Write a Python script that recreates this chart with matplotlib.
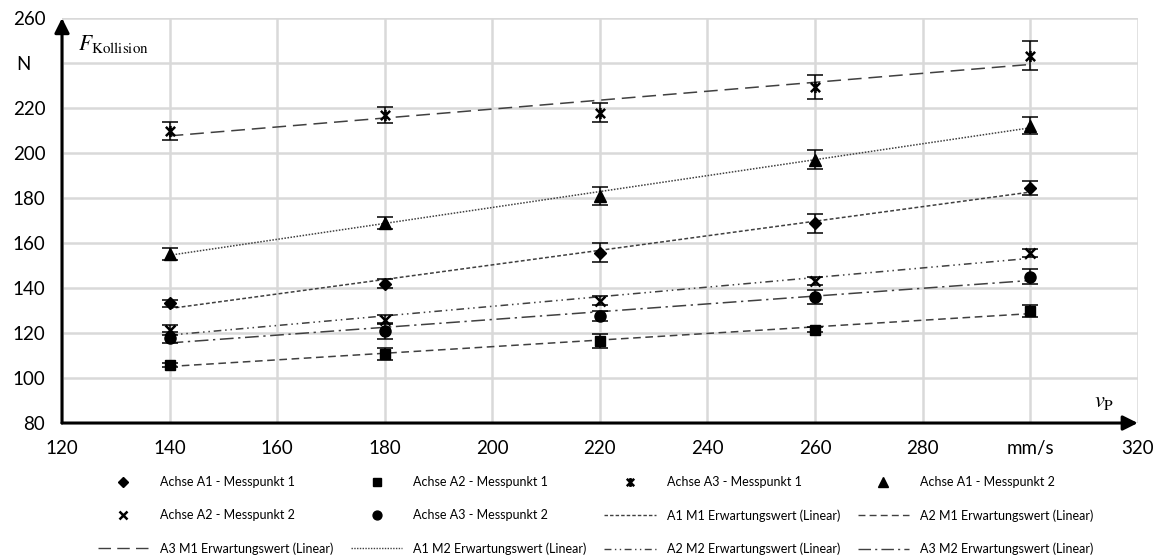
import numpy as np
import matplotlib
matplotlib.use("Agg")
import matplotlib.pyplot as plt
from matplotlib.lines import Line2D
from matplotlib.path import Path

plt.rcParams['font.family'] = ['Lato', 'DejaVu Sans']
plt.rcParams['mathtext.fontset'] = 'stix'

# measured speeds (mm/s)
v = [140, 180, 220, 260, 300]

# collision forces (N) and their spreads
a1m1 = [133.2, 141.8, 155.6, 168.8, 184.4]
a1m1_err = [1.7, 2.0, 4.2, 4.2, 3.0]
a2m1 = [105.9, 110.8, 116.3, 121.5, 129.9]
a2m1_err = [1.0, 2.6, 3.1, 1.0, 2.6]
a3m1 = [209.8, 217.0, 218.0, 229.4, 243.3]
a3m1_err = [3.9, 3.6, 4.1, 5.2, 6.3]
a1m2 = [155.3, 169.0, 181.0, 197.0, 212.1]
a1m2_err = [2.7, 2.6, 3.9, 4.3, 3.8]
a2m2 = [121.5, 126.0, 134.4, 143.3, 155.5]
a2m2_err = [2.2, 2.0, 2.1, 1.8, 1.9]
a3m2 = [117.9, 121.0, 127.4, 136.0, 145.1]
a3m2_err = [2.4, 3.5, 2.2, 3.2, 3.2]

point_labels = ['Achse A1 - Messpunkt 1', 'Achse A2 - Messpunkt 1', 'Achse A3 - Messpunkt 1',
                'Achse A1 - Messpunkt 2', 'Achse A2 - Messpunkt 2', 'Achse A3 - Messpunkt 2']
trend_labels = ['A1 M1 Erwartungswert (Linear)', 'A2 M1 Erwartungswert (Linear)',
                'A3 M1 Erwartungswert (Linear)', 'A1 M2 Erwartungswert (Linear)',
                'A2 M2 Erwartungswert (Linear)', 'A3 M2 Erwartungswert (Linear)']
x_ticks = [120, 140, 160, 180, 200, 220, 240, 260, 280, 300, 320]
x_ticklabels = ['120', '140', '160', '180', '200', '220', '240', '260', '280', 'mm/s', '320']
y_ticks = [80, 100, 120, 140, 160, 180, 200, 220, 240, 260]
y_ticklabels = ['80', '100', '120', '140', '160', '180', '200', '220', 'N   ', '260']

# x with a vertical bar (excel "star")
star = Path([(-1, -1), (1, 1), (-1, 1), (1, -1), (0, -1.2), (0, 1.2)],
            [Path.MOVETO, Path.LINETO, Path.MOVETO, Path.LINETO, Path.MOVETO, Path.LINETO])

series = [a1m1, a2m1, a3m1, a1m2, a2m2, a3m2]
errors = [a1m1_err, a2m1_err, a3m1_err, a1m2_err, a2m2_err, a3m2_err]
markers = [('D', 6), ('s', 7.5), (star, 8), ('^', 8.5), ('x', 7), ('o', 8)]
styles = [(0, (2.5, 1.5)), (0, (5, 3)), (0, (9, 4.5)), (0, (1, 1)),
          (0, (5, 2.5, 1, 2.5, 1, 2.5)), (0, (9, 3, 1.5, 3))]

fig = plt.figure(figsize=(11.61, 5.6), dpi=100)
ax = fig.add_axes([0.0534, 0.2446, 0.9266, 0.7232])

vv = np.array(v, dtype=float)
point_handles = []
trend_handles = []
for y, e, (m, ms), ls, pl, tl in zip(series, errors, markers, styles, point_labels, trend_labels):
    k, d = np.polyfit(vv, y, 1)
    ax.plot(vv, k * vv + d, color='#404040', lw=1.1, linestyle=ls, zorder=3)
    ax.errorbar(v, y, yerr=e, fmt='none', ecolor='black', elinewidth=1.1,
                capsize=6, capthick=1.1, zorder=4)
    mew = 1.8 if (m is star or m == 'x') else 1
    ax.plot(v, y, linestyle='none', marker=m, markersize=ms, color='black',
            markeredgewidth=mew, zorder=5)
    point_handles.append(Line2D([], [], linestyle='none', marker=m, color='black',
                                markersize=ms * 0.8, markeredgewidth=mew))
    trend_handles.append(Line2D([], [], color='#404040', lw=1.0, linestyle=ls))

ax.set_xlim(120, 320)
ax.set_ylim(80, 260)
ax.set_xticks(x_ticks)
ax.set_xticklabels(x_ticklabels)
ax.set_yticks(y_ticks)
ax.set_yticklabels(y_ticklabels)
ax.tick_params(length=0, labelsize=13.5, pad=12)
ax.grid(True, color='#d9d9d9', lw=1.8)
ax.set_axisbelow(True)
for s in ax.spines.values():
    s.set_visible(False)

# arrows instead of spines
ax.annotate('', xy=(0, 1.0), xytext=(0, 0), xycoords='axes fraction',
            arrowprops=dict(arrowstyle='-|>', lw=2.2, color='black', mutation_scale=22,
                            shrinkA=0, shrinkB=0), annotation_clip=False)
ax.annotate('', xy=(1.0, 0), xytext=(0, 0), xycoords='axes fraction',
            arrowprops=dict(arrowstyle='-|>', lw=2.2, color='black', mutation_scale=22,
                            shrinkA=0, shrinkB=0), annotation_clip=False)

ax.text(123, 248.5, r'$F_{\mathrm{Kollision}}$', fontsize=15.5, va='center', ha='left')
ax.text(313.8, 89.5, r'$v_{\mathrm{P}}$', fontsize=16, va='center', ha='center')

handles = point_handles + trend_handles
labels = point_labels + trend_labels
# legend fills column-wise, reorder so it reads row by row
order = [0, 4, 8, 1, 5, 9, 2, 6, 10, 3, 7, 11]
fig.legend([handles[i] for i in order], [labels[i] for i in order],
           loc='upper center', bbox_to_anchor=(0.513, 0.170), ncol=4, frameon=False,
           fontsize=9.0, handlelength=4.1, handletextpad=0.9, columnspacing=1.4,
           labelspacing=1.68)

fig.savefig('out.png', dpi=100)
